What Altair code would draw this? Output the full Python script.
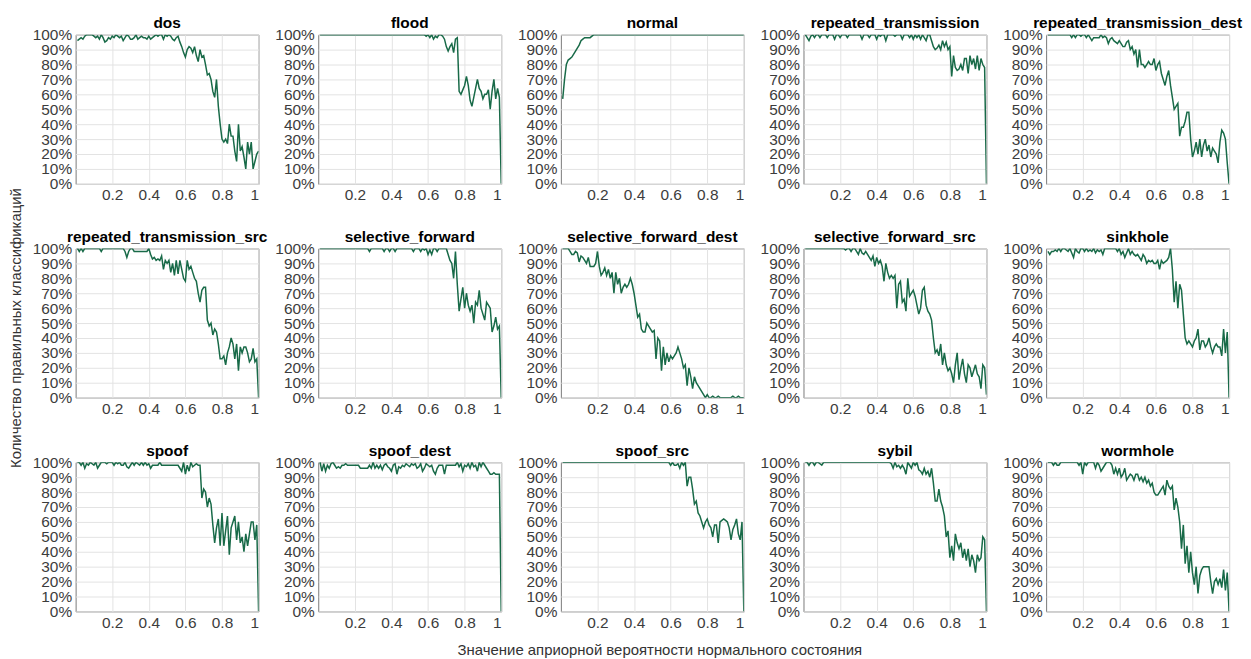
import altair as alt
import pandas as pd

# prior probability of the normal state (x axis)
prior = [round(0.01 * k, 2) for k in range(1, 101)]

# share of correct classifications, % (one value per prior value)
dos = [96, 97, 98, 97, 99, 100, 100, 100, 100, 99,
       98, 99, 97, 100, 98, 95, 96, 98, 97, 99,
       98, 100, 99, 98, 99, 96, 98, 100, 99, 97,
       97, 98, 100, 97, 98, 99, 98, 98, 97, 99,
       97, 98, 99, 100, 99, 100, 100, 97, 100, 99,
       100, 99, 97, 96, 98, 99, 95, 92, 88, 85,
       90, 92, 91, 88, 92, 86, 82, 90, 85, 86,
       80, 73, 74, 70, 62, 58, 70, 52, 40, 30,
       28, 30, 27, 40, 32, 32, 22, 15, 40, 22,
       25, 18, 10, 28, 20, 28, 10, 15, 20, 22]

flood = [100] * 58 + [99, 100,
       98, 100, 97, 99, 98, 100, 100, 99, 97, 92,
       89, 92, 94, 88, 97, 98, 62, 60, 63, 66,
       72, 66, 56, 52, 58, 64, 70, 64, 62, 57,
       60, 60, 63, 50, 62, 70, 57, 64, 58, 0]

normal = [57, 70, 80, 83, 84, 85, 87, 89, 91, 93,
          96, 97, 98, 98, 98, 98, 99, 100, 100, 100] + [100] * 80

repeated_transmission = [100, 98, 96, 99, 100, 98, 100, 100, 98, 100,
       100, 100, 98, 100, 100, 100, 97, 100, 100, 98,
       100, 100, 100, 98, 100, 100, 100, 100, 100, 100,
       100, 97, 100, 100, 100, 98, 100, 100, 100, 97,
       100, 99, 100, 100, 96, 100, 100, 100, 100, 99,
       100, 100, 100, 97, 100, 100, 100, 98, 100, 97,
       100, 98, 100, 97, 100, 98, 96, 100, 100, 96,
       92, 90, 91, 93, 90, 96, 92, 95, 90, 92,
       72, 86, 78, 76, 77, 80, 76, 84, 84, 74,
       86, 80, 84, 77, 86, 76, 84, 80, 78, 0]

repeated_transmission_dest = [100] * 10 + [
       100, 100, 100, 98, 100, 98, 100, 100, 99, 100,
       100, 98, 100, 98, 96, 98, 98, 98, 98, 100,
       98, 99, 98, 94, 97, 98, 96, 95, 94, 96,
       94, 92, 92, 95, 96, 90, 92, 87, 90, 78,
       90, 80, 80, 78, 80, 82, 80, 80, 84, 76,
       80, 82, 74, 70, 66, 72, 76, 66, 58, 50,
       52, 54, 32, 38, 38, 42, 48, 48, 30, 18,
       22, 28, 20, 30, 18, 26, 30, 22, 26, 18,
       24, 22, 20, 14, 28, 36, 34, 30, 14, 0]

repeated_transmission_src = [100, 98, 100, 98, 100, 100, 100, 100, 100, 100,
       100, 100, 100, 98, 100, 100, 100, 100, 100, 100,
       100, 100, 100, 100, 100, 100, 98, 94, 98, 100,
       100, 98, 98, 98, 98, 98, 98, 98, 98, 100,
       96, 93, 94, 92, 93, 92, 95, 86, 92, 90,
       92, 84, 90, 82, 92, 83, 92, 86, 80, 78,
       92, 86, 88, 84, 80, 78, 70, 64, 72, 74,
       74, 52, 48, 50, 42, 46, 44, 36, 26, 26,
       28, 22, 30, 34, 40, 36, 26, 36, 18, 34,
       30, 34, 34, 30, 24, 26, 33, 24, 26, 0]

selective_forward = [100] * 20 + [
       100, 100, 100, 100, 100, 100, 100, 98, 100, 100,
       100, 100, 100, 100, 100, 98, 100, 100, 98, 100,
       100, 98, 100, 100, 100, 100, 100, 100, 100, 100,
       100, 98, 100, 100, 100, 98, 100, 99, 100, 96,
       99, 96, 100, 100, 98, 100, 100, 100, 100, 100,
       96, 92, 90, 80, 98, 76, 58, 66, 74, 60,
       70, 62, 58, 62, 50, 64, 62, 72, 60, 56,
       52, 64, 62, 60, 44, 48, 54, 46, 48, 0]

selective_forward_dest = [100, 100, 100, 100, 98, 96, 96, 98, 97, 91,
       95, 94, 92, 90, 94, 88, 88, 88, 90, 98,
       88, 82, 84, 87, 82, 86, 80, 84, 70, 84,
       76, 80, 70, 74, 76, 74, 76, 80, 76, 70,
       62, 54, 56, 46, 44, 44, 50, 48, 46, 44,
       45, 26, 40, 38, 18, 34, 22, 30, 24, 28,
       26, 28, 30, 34, 30, 26, 20, 22, 8, 20,
       14, 6, 14, 10, 8, 6, 4, 2, 0, 2,
       0, 0, 1, 0, 0, 1, 0, 0, 0, 0,
       0, 0, 0, 1, 0, 0, 1, 0, 0, 0]

selective_forward_src = [100] * 20 + [
       100, 100, 99, 100, 100, 98, 100, 100, 98, 96,
       100, 97, 96, 98, 96, 94, 92, 95, 88, 94,
       90, 92, 88, 78, 90, 84, 80, 82, 80, 82,
       60, 76, 78, 64, 66, 58, 80, 68, 70, 72,
       68, 62, 56, 60, 72, 74, 62, 58, 56, 52,
       40, 30, 32, 28, 36, 22, 30, 22, 18, 20,
       16, 10, 22, 30, 12, 20, 26, 16, 10, 22,
       20, 14, 18, 22, 16, 14, 6, 22, 20, 2]

sinkhole = [98, 96, 98, 98, 99, 98, 100, 98, 100, 100,
       99, 98, 100, 97, 94, 100, 98, 97, 100, 100,
       98, 100, 98, 99, 98, 100, 97, 99, 98, 99,
       96, 100, 100, 100, 100, 100, 100, 100, 98, 100,
       96, 98, 94, 97, 100, 96, 98, 96, 95, 96,
       94, 92, 96, 94, 90, 92, 91, 92, 90, 90,
       92, 86, 92, 90, 91, 92, 94, 100, 86, 64,
       78, 60, 76, 72, 56, 40, 36, 38, 36, 34,
       38, 40, 46, 32, 38, 38, 34, 36, 40, 34,
       30, 34, 36, 34, 34, 28, 46, 30, 44, 0]

spoof = [100, 100, 98, 100, 96, 99, 98, 100, 99, 98,
       100, 96, 98, 100, 100, 100, 99, 100, 100, 100,
       98, 100, 99, 100, 98, 98, 100, 97, 96, 98,
       100, 98, 100, 99, 98, 100, 98, 100, 98, 99,
       96, 98, 98, 98, 98, 100, 98, 98, 98, 98,
       98, 98, 98, 98, 98, 98, 96, 94, 100, 92,
       98, 94, 100, 97, 98, 99, 98, 98, 76, 82,
       80, 70, 76, 72, 58, 46, 56, 62, 44, 66,
       44, 54, 64, 38, 56, 60, 64, 48, 60, 46,
       50, 40, 52, 44, 52, 60, 60, 48, 58, 0]

spoof_dest = [100, 94, 99, 94, 98, 96, 99, 100, 98, 96,
       97, 96, 98, 98, 99, 98, 98, 98, 98, 98,
       98, 98, 96, 96, 96, 96, 96, 98, 96, 100,
       96, 98, 96, 98, 95, 98, 99, 97, 96, 94,
       98, 99, 92, 97, 96, 98, 97, 99, 98, 97,
       99, 98, 99, 96, 97, 99, 94, 96, 99, 98,
       97, 98, 94, 92, 96, 98, 98, 98, 92, 98,
       98, 98, 98, 98, 98, 100, 97, 99, 94, 98,
       97, 99, 96, 100, 97, 98, 94, 100, 97, 100,
       98, 96, 94, 92, 92, 93, 92, 92, 92, 0]

spoof_src = [100] * 58 + [100, 98,
       100, 98, 98, 99, 96, 100, 98, 100, 84, 90,
       90, 82, 72, 74, 66, 64, 60, 56, 60, 62,
       58, 56, 50, 58, 58, 46, 60, 61, 62, 61,
       60, 56, 48, 55, 58, 62, 52, 48, 60, 0]

sybil = [100, 100, 98, 100, 100, 98, 100, 100, 99, 98] + [100] * 30 + [
       100, 100, 100, 100, 100, 100, 100, 99, 96, 100,
       97, 98, 96, 98, 96, 92, 100, 98, 96, 100,
       98, 100, 95, 94, 92, 96, 92, 94, 90, 96,
       86, 74, 74, 82, 74, 70, 64, 50, 54, 36,
       44, 34, 52, 46, 42, 46, 36, 42, 34, 42,
       30, 38, 34, 26, 38, 34, 36, 50, 48, 0]

wormhole = [100, 100, 100, 98, 100, 98, 98, 100, 100, 100,
       100, 100, 100, 100, 100, 100, 100, 98, 100, 92,
       100, 98, 100, 100, 100, 100, 96, 100, 98, 94,
       96, 98, 100, 100, 100, 98, 92, 96, 92, 96,
       90, 92, 96, 88, 90, 92, 91, 88, 92, 92,
       88, 90, 87, 90, 86, 88, 84, 86, 80, 78,
       78, 80, 82, 84, 78, 88, 84, 82, 84, 68,
       76, 70, 60, 42, 58, 32, 44, 26, 40, 26,
       18, 30, 12, 24, 28, 30, 30, 30, 30, 20,
       12, 20, 22, 18, 22, 16, 28, 14, 26, 0]

attack_names = ["dos", "flood", "normal", "repeated_transmission",
                "repeated_transmission_dest", "repeated_transmission_src",
                "selective_forward", "selective_forward_dest",
                "selective_forward_src", "sinkhole", "spoof", "spoof_dest",
                "spoof_src", "sybil", "wormhole"]
attack_values = [dos, flood, normal, repeated_transmission,
                 repeated_transmission_dest, repeated_transmission_src,
                 selective_forward, selective_forward_dest,
                 selective_forward_src, sinkhole, spoof, spoof_dest,
                 spoof_src, sybil, wormhole]

x_ticks = [0.2, 0.4, 0.6, 0.8, 1]
y_ticks = [0, 0.1, 0.2, 0.3, 0.4, 0.5, 0.6, 0.7, 0.8, 0.9, 1]

x_title = "Значение априорной вероятности нормального состояния"
y_title = "Количество правильных классификаций"

rows = []
for name, vals in zip(attack_names, attack_values):
    for xv, yv in zip(prior, vals):
        rows.append({"attack": name, "p": xv, "acc": yv / 100.0})
df = pd.DataFrame(rows)

FONT = "Liberation Sans"
GREEN = "#186a48"
W, H = 184, 150


def panel(i, name):
    xa = dict(values=x_ticks, format="~g", grid=True, ticks=False, domain=False,
              labelPadding=4, labelOverlap=False, title=None)
    ya = dict(values=y_ticks, format=".0%", grid=True, ticks=False, domain=False,
              labelPadding=4, labelOverlap=False, title=None)
    if i == 12:
        xa.update(title=x_title, titlePadding=12, titleX=99)
    return (
        alt.Chart(df)
        .transform_filter(alt.datum.attack == name)
        .mark_line(color=GREEN, strokeWidth=1.5, clip=True)
        .encode(
            x=alt.X("p:Q", scale=alt.Scale(domain=[0, 1], nice=False), axis=alt.Axis(**xa)),
            y=alt.Y("acc:Q", scale=alt.Scale(domain=[0, 1], nice=False), axis=alt.Axis(**ya)),
        )
        .properties(
            width=W, height=H,
            title=alt.TitleParams(name, font=FONT, fontSize=15.5, fontWeight="bold",
                                  color="black", offset=-4, frame="group"),
        )
    )


charts = [panel(i, n) for i, n in enumerate(attack_names)]

chart = (
    alt.concat(*charts, columns=5, spacing={"row": 65, "column": 60}, bounds="flush")
    .properties(
        padding={"left": 0, "top": 6, "right": 0, "bottom": 0},
        title=alt.TitleParams(y_title, orient="left", anchor="middle",
                              font=FONT, fontSize=15, fontWeight="normal",
                              color="#333333", offset=8, dx=9),
    )
    .configure_view(stroke="#7a7a7a", strokeWidth=1)
    .configure_axis(
        labelFont=FONT, labelFontSize=15.5, labelColor="#3c3c3c",
        titleFont=FONT, titleFontSize=15, titleFontWeight="normal", titleColor="#333333",
        gridColor="#e3e3e3", gridWidth=1,
    )
)

chart.save("out.html", embed_options={"renderer": "svg", "actions": False})
